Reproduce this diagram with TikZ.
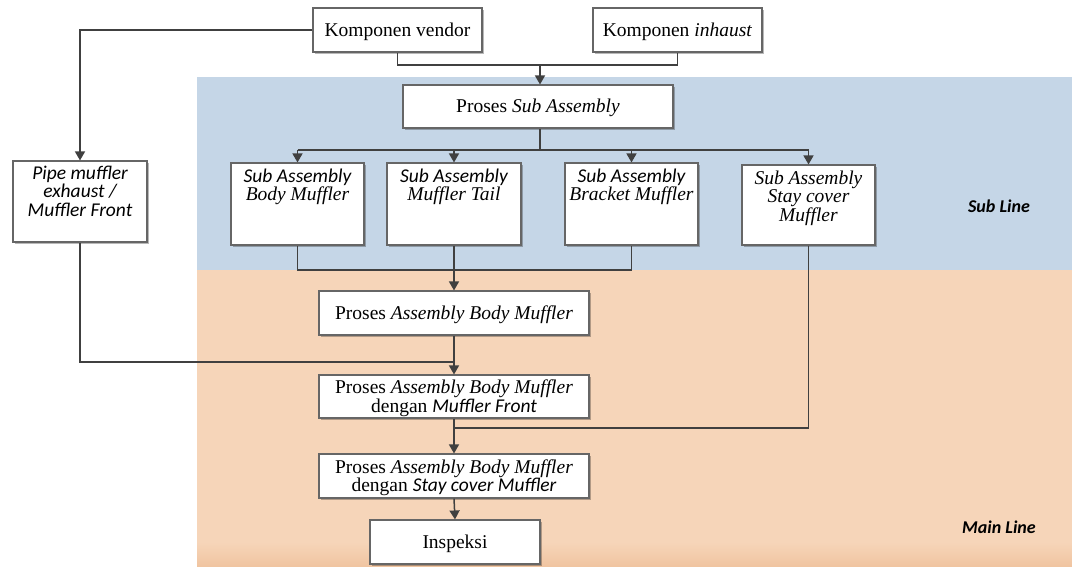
\documentclass[tikz,border=0pt]{standalone}
\usepackage{fontspec}
\setmainfont{Liberation Serif}
\newfontfamily\calfont{Carlito}
\usetikzlibrary{arrows.meta,shadows}
\definecolor{sublinebg}{RGB}{197,214,231}
\definecolor{mainlinebg}{RGB}{246,213,185}
\definecolor{mainlinedark}{RGB}{240,196,160}
\definecolor{wire}{RGB}{64,64,64}
\newcommand{\ci}[1]{{\calfont\itshape #1}}
\begin{document}
\begin{tikzpicture}[x=1pt,y=-1pt,
  box/.style={draw=black!60, fill=white, line width=1.1pt, inner sep=0pt,
    align=center, font=\fontsize{19.5}{19}\selectfont,
    drop shadow={shadow xshift=2pt,shadow yshift=-2pt,fill=black,opacity=0.28}},
  boxtext/.style={anchor=north, inner sep=0pt, align=center,
    font=\fontsize{19.5}{18.5}\selectfont},
  wire/.style={draw=wire, line width=1.5pt},
  arr/.style={wire, -{Triangle[length=9pt,width=10pt]}},
  band/.style={font=\calfont\bfseries\itshape\fontsize{18}{18}\selectfont}]
\path[use as bounding box] (0,0) rectangle (1072,567);

% background bands
\fill[sublinebg] (197,77) rectangle (1072,270);
\fill[mainlinebg] (197,270) rectangle (1072,567);
\shade[top color=mainlinebg, bottom color=mainlinedark] (197,542) rectangle (1072,567);

\node[band] (sub) at (999,206) {Sub Line};
\node[band] (main) at (999,527) {Main Line};

% input components
\node[box, minimum width=169pt, minimum height=44pt] (vendor) at (397.5,30) {};
\node[box, minimum width=169pt, minimum height=44pt] (inhaust) at (677.5,30) {};
\node[box, minimum width=270pt, minimum height=43pt] (psa) at (538,106.5) {};
\node[boxtext, anchor=center] at ([yshift=-1.5pt]vendor.center) {Komponen vendor};
\node[boxtext, anchor=center] at ([yshift=-1.5pt]inhaust.center) {Komponen \textit{inhaust}};
\node[boxtext, anchor=center] at ([yshift=-1.5pt]psa.center) {Proses \textit{Sub Assembly}};

% part boxes with text at the top
\node[box, minimum width=134pt, minimum height=81pt] (pipe) at (80,201.5) {};
\node[boxtext] at ([yshift=-5pt]pipe.north) {\ci{Pipe muffler}\\ \ci{exhaust /}\\ \ci{Muffler Front}};
\node[box, minimum width=133pt, minimum height=82pt] (sbm) at (297.5,204) {};
\node[boxtext] at ([yshift=-6pt]sbm.north) {\ci{Sub Assembly}\\ \textit{Body Muffler}};
\node[box, minimum width=134pt, minimum height=82pt] (smt) at (454,204) {};
\node[boxtext] at ([yshift=-6pt]smt.north) {\ci{Sub Assembly}\\ \textit{Muffler Tail}};
\node[box, minimum width=133pt, minimum height=82pt] (sbr) at (631.5,204) {};
\node[boxtext] at ([yshift=-6pt]sbr.north) {\ci{Sub Assembly}\\ \textit{Bracket Muffler}};
\node[box, minimum width=133pt, minimum height=80pt] (ssc) at (808.5,205) {};
\node[boxtext] at ([yshift=-6pt]ssc.north) {\textit{Sub Assembly}\\ \textit{Stay cover}\\ \textit{Muffler}};

% main line process steps
\node[box, minimum width=270pt, minimum height=44pt] (pabm) at (454,313) {};
\node[boxtext, anchor=center] at ([yshift=-1.5pt]pabm.center) {Proses \textit{Assembly Body Muffler}};
\node[box, minimum width=270pt, minimum height=43pt] (pabmf) at (454,396.5) {};
\node[boxtext, anchor=center] at ([yshift=-1.5pt]pabmf.center) {Proses \textit{Assembly Body Muffler}\\ dengan \ci{Muffler Front}};
\node[box, minimum width=270pt, minimum height=44pt] (pabms) at (454,476) {};
\node[boxtext, anchor=center] at ([yshift=-1.5pt]pabms.center) {Proses \textit{Assembly Body Muffler}\\ dengan \ci{Stay cover Muffler}};
\node[box, minimum width=170pt, minimum height=44pt] (insp) at (455,542) {};
\node[boxtext, anchor=center] at ([yshift=-1.5pt]insp.center) {Inspeksi};

% junction points
\coordinate (j1) at (540,65);
\coordinate (j2) at (540,150);
\coordinate (j3) at (454,270);
\coordinate (j4) at (454,362);
\coordinate (j5) at (454,428);

% connectors
\draw[wire] (vendor.south) |- (j1) -| (inhaust.south);
\draw[arr] (j1) -- (j1 |- psa.north);
\draw[arr] (vendor.west) -| (pipe.north);
\draw[wire, line width=2.6pt] (j2 |- psa.south) -- (j2);
\draw[wire] (sbm.north |- j2) -- (ssc.north |- j2);
\draw[arr] (sbm.north |- j2) -- (sbm.north);
\draw[arr] (smt.north |- j2) -- (smt.north);
\draw[arr] (sbr.north |- j2) -- (sbr.north);
\draw[arr] (ssc.north |- j2) -- (ssc.north);
\draw[wire] (sbm.south) |- (j3) -| (sbr.south);
\draw[arr] (smt.south) -- (pabm.north);
\draw[wire] (pipe.south) |- (j4);
\draw[arr] (pabm.south) -- (pabmf.north);
\draw[wire] (ssc.south) |- (j5);
\draw[arr] (pabmf.south) -- (pabms.north);
\draw[arr] (pabms.south) -- (insp.north);
\end{tikzpicture}
\end{document}
